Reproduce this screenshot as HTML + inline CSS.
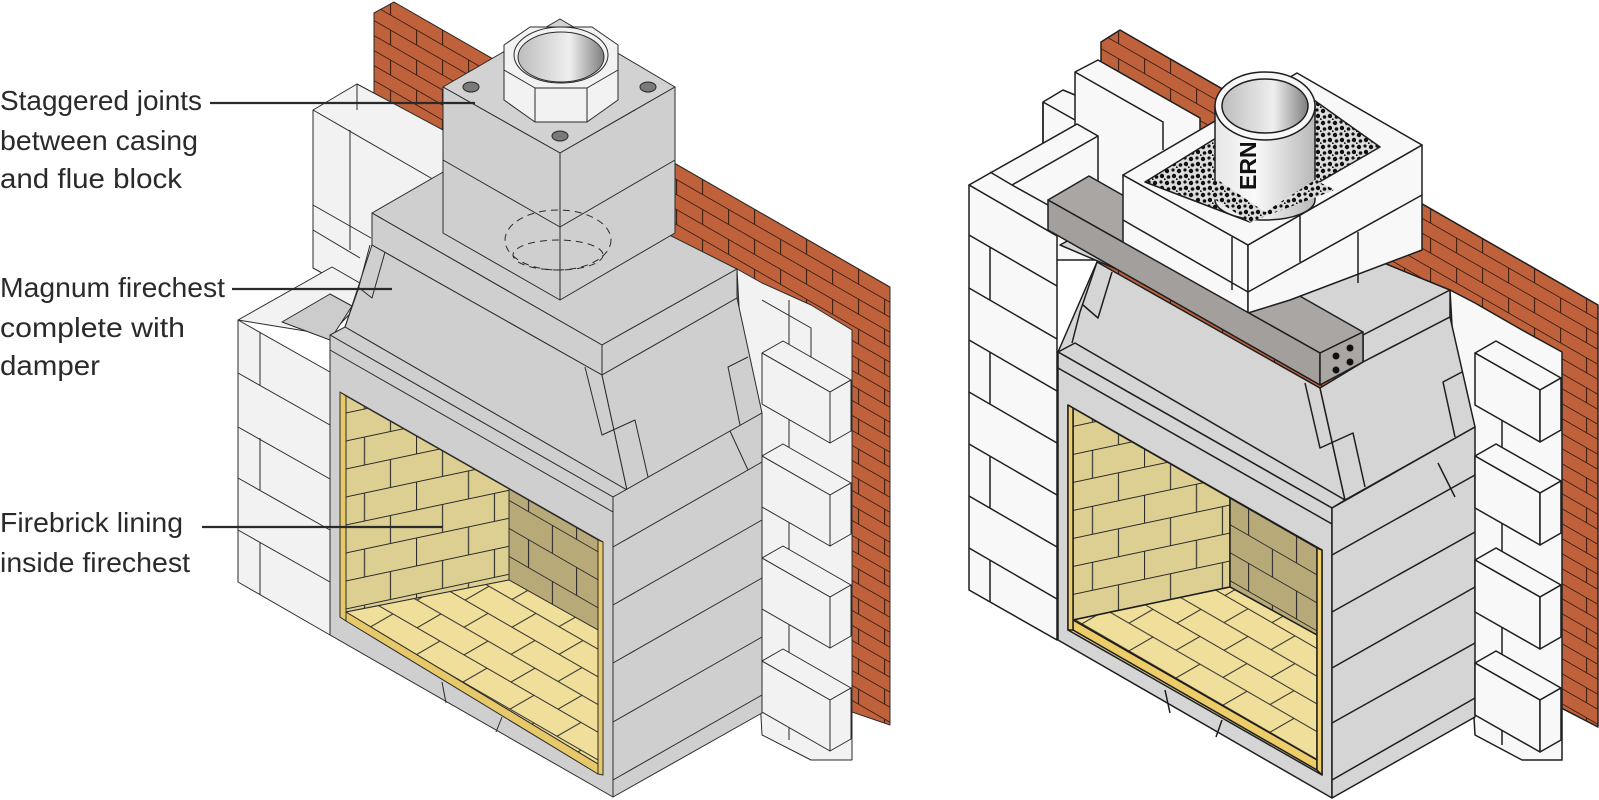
<!DOCTYPE html>
<html><head><meta charset="utf-8"><style>
html,body{margin:0;padding:0;background:#fff}
svg{display:block}
text{font-family:"Liberation Sans",sans-serif;fill:#2a2a2a}
</style></head><body>
<svg width="1599" height="800" viewBox="0 0 1599 800" xmlns="http://www.w3.org/2000/svg">
<defs>
<pattern id="red" width="52" height="30" patternUnits="userSpaceOnUse" patternTransform="skewY(29.9)">
<rect width="52" height="30" fill="#bf623c"/><path d="M0,0.5H52M0,15.5H52M0.5,0V15M26.5,15V30" stroke="#3a1d12" stroke-width="1.1" fill="none"/></pattern>
<pattern id="back" width="104" height="56" patternUnits="userSpaceOnUse" patternTransform="translate(0,402) skewY(-12)">
<rect width="104" height="56" fill="#dccf91"/><path d="M0,0.5H104M0,28.5H104M0.5,0V28M52.5,0V28M26.5,28V56M78.5,28V56" stroke="#2a2a2a" stroke-width="1.1" fill="none"/></pattern>
<pattern id="side" width="96" height="56" patternUnits="userSpaceOnUse" patternTransform="translate(0,10) skewY(30)">
<rect width="96" height="56" fill="#b7aa78"/><path d="M0,0.5H96M0,28.5H96M0.5,0V28M48.5,0V28M24.5,28V56M72.5,28V56" stroke="#2a2a2a" stroke-width="1.1" fill="none"/></pattern>
<pattern id="floor" width="94" height="48" patternUnits="userSpaceOnUse" patternTransform="matrix(1,0.577,1,-0.577,0,0)">
<rect width="94" height="48" fill="#efdf9a"/><path d="M0,0.5H94M0,24.5H94M0.5,0V24M47.5,0V24M23.5,24V48M70.5,24V48" stroke="#2a2a2a" stroke-width="1" fill="none"/></pattern>
<pattern id="grav" width="12" height="12" patternUnits="userSpaceOnUse">
<rect width="12" height="12" fill="#dcdcdc"/><circle cx="3" cy="3" r="2.2" fill="#111"/><circle cx="9" cy="2" r="1.6" fill="#111"/><circle cx="10" cy="8" r="2.2" fill="#111"/><circle cx="4.5" cy="9" r="1.8" fill="#111"/><circle cx="0.5" cy="11.5" r="1.2" fill="#111"/></pattern>
<linearGradient id="pipe" x1="0" x2="1" y1="0" y2="0"><stop offset="0" stop-color="#e6e6e6"/><stop offset="0.4" stop-color="#fafafa"/><stop offset="1" stop-color="#b8b8b8"/></linearGradient>
<linearGradient id="inner" x1="0" x2="1" y1="0" y2="0"><stop offset="0" stop-color="#bdbdbd"/><stop offset="0.6" stop-color="#efefef"/><stop offset="1" stop-color="#7e7e7e"/></linearGradient>
</defs>

<text x="0" y="110" font-size="28" textLength="202" lengthAdjust="spacingAndGlyphs">Staggered joints</text>
<text x="0" y="150" font-size="28" textLength="198" lengthAdjust="spacingAndGlyphs">between casing</text>
<text x="0" y="188" font-size="28" textLength="182" lengthAdjust="spacingAndGlyphs">and flue block</text>
<text x="0" y="297" font-size="28" textLength="225" lengthAdjust="spacingAndGlyphs">Magnum firechest</text>
<text x="0" y="337" font-size="28" textLength="185" lengthAdjust="spacingAndGlyphs">complete with</text>
<text x="0" y="375" font-size="28" textLength="100" lengthAdjust="spacingAndGlyphs">damper</text>
<text x="0" y="532" font-size="28" textLength="183" lengthAdjust="spacingAndGlyphs">Firebrick lining</text>
<text x="0" y="572" font-size="28" textLength="190" lengthAdjust="spacingAndGlyphs">inside firechest</text>

<!-- LEFT FIGURE -->
<g stroke="#2b2b2b" stroke-width="1" stroke-linejoin="round">
<polygon points="374,13 394,2 890,287 890,725 852,712 374,440" fill="url(#red)"/>
<polygon points="313,110 357,84 443,130 443,335 371,300 313,268" fill="#f2f2f2"/>
<path d="M313,110 L443,185 M357,84 V110 M350,130 V250 M313,205 L371,238 M313,230 L360,258" fill="none"/>
<polygon points="238,320 332,267 372,290 330,335" fill="#f2f2f2"/>
<polygon points="282,322 330,294 352,306 330,340" fill="#cccccc"/>
<polygon points="238,320 330,372 330,635 238,582" fill="#f2f2f2"/>
<path d="M238,373 L330,425 M238,427 L330,479 M238,478 L330,530 M238,530 L330,582 M260,332 V385 M260,438 V490 M260,542 V595" fill="none"/>
<polygon points="737,269 762,283 811,305 852,330 852,760 811,760 762,735" fill="#f2f2f2"/>
<path d="M762,300 L811,328 V370 M789,300 V352 M789,404 V455 M789,507 V558 M789,609 V661 M789,712 V740" fill="none"/>
<polygon points="372,213 490,145 737,269 602,345" fill="#cfcfcf"/>
<polygon points="372,213 602,345 602,375 372,245" fill="#cfcfcf"/>
<polygon points="602,345 737,269 737,298 602,375" fill="#cfcfcf"/>
<polygon points="443,87 560,19 675,87 560,153" fill="#d2d2d2"/>
<polygon points="443,87 560,153 560,300 443,233" fill="#cfcfcf"/>
<polygon points="560,153 675,87 675,233 560,300" fill="#cfcfcf"/>
<path d="M443,160 L560,227 L675,160" fill="none"/>
<polygon points="504,45 530,27 592,27 618,45 618,100 587,122 535,122 504,100" fill="#f2f2f2"/>
<path d="M504,70 L535,88 L587,88 L618,70 M535,88 V122 M587,88 V122" fill="none"/>
<ellipse cx="561" cy="55" rx="47" ry="28" fill="#f2f2f2"/>
<ellipse cx="561" cy="57" rx="43" ry="25" fill="url(#inner)"/>
<ellipse cx="471" cy="87" rx="8" ry="5" fill="#7a7a7a"/>
<ellipse cx="648" cy="87" rx="8" ry="5" fill="#7a7a7a"/>
<ellipse cx="560" cy="136" rx="8" ry="5" fill="#7a7a7a"/>
<ellipse cx="558" cy="240" rx="53" ry="30" fill="none" stroke-dasharray="7 5"/>
<ellipse cx="558" cy="255" rx="45" ry="15" fill="none" stroke-dasharray="7 5"/>
<polygon points="372,245 602,375 627,490 345,327" fill="#cfcfcf"/>
<polygon points="602,375 737,298 762,413 627,490" fill="#cfcfcf"/>
<path d="M385,252 L372,298 L358,287 M370,245 L358,290 L345,327 M585,367 L602,435 L635,420 L648,477 M748,357 L728,367 L740,425 M720,437 L742,473 M653,475 L640,520" fill="none"/>
<polygon points="330,335 345,327 627,490 613,497" fill="#cfcfcf"/>
<polygon points="330,335 613,497 613,797 330,635" fill="#cfcfcf"/>
<polygon points="613,497 762,413 762,713 613,797" fill="#cfcfcf"/>
<path d="M613,547 L762,462 M613,605 L762,520 M613,663 L762,578 M613,722 L762,637 M613,780 L762,695 M330,350 L613,512 M442,682 L446,703 M502,717 L496,732 M730,431 L748,470" fill="none"/>
<polygon points="340,392 603,542 603,775 340,617" fill="#dccf91"/>
<polygon points="346,396 509,489 509,580 346,612" fill="url(#back)"/>
<polygon points="509,489 598,540 598,630 509,580" fill="url(#side)"/>
<polygon points="346,612 509,580 598,630 598,764" fill="url(#floor)"/>
<polygon points="346,612 598,764 598,774 346,621" fill="#e8c96a"/>
<polygon points="340,392 346,396 346,621 340,617" fill="#e8c96a"/>
<polygon points="598,540 603,542 603,775 598,774" fill="#e8c96a"/>
<g fill="#f2f2f2">
<polygon points="762,353 783,341 851,380 830,392"/><polygon points="762,353 830,392 830,443 762,404"/><polygon points="830,392 851,380 851,431 830,443"/>
<polygon points="762,456 783,444 851,483 830,495"/><polygon points="762,456 830,495 830,546 762,507"/><polygon points="830,495 851,483 851,534 830,546"/>
<polygon points="762,558 783,546 851,585 830,597"/><polygon points="762,558 830,597 830,648 762,609"/><polygon points="830,597 851,585 851,636 830,648"/>
<polygon points="762,661 783,649 851,688 830,700"/><polygon points="762,661 830,700 830,751 762,712"/><polygon points="830,700 851,688 851,739 830,751"/>
</g>
</g>

<g stroke="#2a2a2a" stroke-width="2.2">
<line x1="210" y1="103" x2="475" y2="103"/>
<line x1="232" y1="289" x2="392" y2="289"/>
<line x1="202" y1="527" x2="443" y2="527"/>
</g>

<!-- RIGHT FIGURE -->
<g stroke="#1e1e1e" stroke-width="1.5" stroke-linejoin="round">
<polygon points="1101,42 1120,30 1598,305 1598,727 1101,470" fill="url(#red)"/>
<polygon points="1043,102 1063,90 1075,95 1075,72 1098,60 1200,118 1200,260 1043,260" fill="#f7f8f7"/>
<path d="M1075,72 L1163,122 V150 M1043,102 L1075,120 M1075,95 V180 M1043,102 V200" fill="none"/>
<polygon points="969,185 1077,124 1098,136 1098,200 1057,222 1057,236" fill="#f7f8f7"/>
<path d="M990,172 L1012,185 L1098,136 M1012,185 L1057,210" fill="none"/>
<polygon points="969,185 1057,236 1057,640 969,590" fill="#f7f8f7"/>
<path d="M969,235 L1057,286 M969,288 L1057,339 M969,340 L1057,391 M969,392 L1057,443 M969,444 L1057,495 M969,496 L1057,547 M969,548 L1057,599 M990,247 V300 M990,352 V404 M990,456 V508 M990,560 V602" fill="none"/>
<polygon points="1450,290 1475,303 1522,330 1562,352 1562,760 1522,760 1475,735" fill="#f7f8f7"/>
<path d="M1502,405 V455 M1502,508 V560 M1502,612 V663 M1502,715 V745" fill="none"/>
<polygon points="1060,245 1180,180 1450,290 1330,360" fill="#d5d5d5"/>
<polygon points="1363,335 1450,290 1450,317 1363,362" fill="#d5d5d5"/>
<polygon points="1097,262 1320,388 1345,500 1058,352" fill="#d5d5d5"/>
<polygon points="1320,388 1363,362 1450,317 1475,427 1345,500" fill="#d5d5d5"/>
<path d="M1112,272 L1098,318 L1083,305 M1097,262 L1080,312 L1072,343 M1305,383 L1320,448 L1353,433 L1365,487 M1462,372 L1443,382 L1455,437 M1435,450 L1453,483 M1370,487 L1358,530" fill="none"/>
<polygon points="1058,352 1075,343 1345,500 1332,508" fill="#d5d5d5"/>
<polygon points="1058,352 1332,508 1332,798 1058,640" fill="#d5d5d5"/>
<polygon points="1332,508 1475,427 1475,717 1332,798" fill="#d5d5d5"/>
<path d="M1332,555 L1475,475 M1332,612 L1475,532 M1332,668 L1475,587 M1332,723 L1475,643 M1332,780 L1475,698 M1058,368 L1332,524 M1165,690 L1170,713 M1222,720 L1216,737 M1438,463 L1455,497" fill="none"/>
<polygon points="1068,405 1322,550 1322,775 1068,630" fill="#e3d593"/>
<polygon points="1073,408 1230,498 1230,587 1073,620" fill="url(#back)"/>
<polygon points="1230,498 1317,548 1317,635 1230,587" fill="url(#side)"/>
<polygon points="1073,620 1230,587 1317,635 1317,760" fill="url(#floor)"/>
<polygon points="1073,620 1317,760 1317,770 1073,630" fill="#edcd67"/>
<polygon points="1068,405 1073,408 1073,630 1068,630" fill="#edcd67"/>
<polygon points="1317,548 1322,550 1322,775 1317,770" fill="#edcd67"/>
<polygon points="1048,200 1089,176 1363,332 1320,353" fill="#aaa6a4"/>
<polygon points="1123,175 1248,245 1248,313 1123,243" fill="#f7f8f7"/>
<polygon points="1248,245 1422,145 1422,250 1290,300 1248,313" fill="#f7f8f7"/>
<path d="M1123,220 L1248,292 L1422,195 M1232,237 V290 M1300,213 V262 M1358,232 V283" fill="none"/>
<polygon points="1123,175 1297,73 1422,145 1248,245" fill="#f7f8f7"/>
<polygon points="1145,182 1297,88 1380,147 1250,222" fill="url(#grav)"/>
<path d="M1215,106 V200 A50,20 0 0 0 1315,200 V106 Z" fill="url(#pipe)"/>
<ellipse cx="1265" cy="106" rx="50" ry="34" fill="#f7f7f7"/>
<ellipse cx="1265" cy="106" rx="43" ry="27" fill="url(#inner)"/>
<polygon points="1200,190 1218,180 1265,212 1315,180 1335,190 1250,222" fill="url(#grav)" stroke="none"/>
<polygon points="1048,200 1320,353 1320,385 1048,230" fill="#a39f9d"/>
<polygon points="1320,353 1363,332 1363,362 1320,385" fill="#aaa6a4"/>
<g fill="#111" stroke="none">
<circle cx="1336" cy="356" r="3.5"/><circle cx="1350" cy="348" r="3.5"/><circle cx="1336" cy="370" r="3.5"/><circle cx="1350" cy="362" r="3.5"/>
</g>
<g fill="#f7f8f7">
<polygon points="1475,353 1496,341 1561,378 1540,390"/><polygon points="1475,353 1540,390 1540,442 1475,405"/><polygon points="1540,390 1561,378 1561,430 1540,442"/>
<polygon points="1475,456 1496,444 1561,481 1540,493"/><polygon points="1475,456 1540,493 1540,545 1475,508"/><polygon points="1540,493 1561,481 1561,533 1540,545"/>
<polygon points="1475,560 1496,548 1561,585 1540,597"/><polygon points="1475,560 1540,597 1540,649 1475,612"/><polygon points="1540,597 1561,585 1561,637 1540,649"/>
<polygon points="1475,663 1496,651 1561,688 1540,700"/><polygon points="1475,663 1540,700 1540,752 1475,715"/><polygon points="1540,700 1561,688 1561,740 1540,752"/>
</g>
</g>
<text transform="translate(1256,190) rotate(-90)" font-size="23" font-weight="bold" style="fill:#111">ERN</text>
</svg>
</body></html>
